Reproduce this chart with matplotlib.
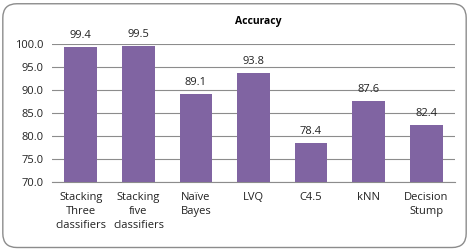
import numpy as np
import matplotlib
matplotlib.use("Agg")
import matplotlib.pyplot as plt
from matplotlib.patches import FancyBboxPatch

categories = ["Stacking\nThree\nclassifiers", "Stacking\nfive\nclassifiers", "Naïve\nBayes",
              "LVQ", "C4.5", "kNN", "Decision\nStump"]
accuracy = [99.4, 99.5, 89.1, 93.8, 78.4, 87.6, 82.4]
yticks = [70.0, 75.0, 80.0, 85.0, 90.0, 95.0, 100.0]

plt.rcParams['font.family'] = ['Open Sans', 'DejaVu Sans']

fig = plt.figure(figsize=(4.69, 2.5), dpi=100)
# rounded chart-area border, kept behind the axes
border = FancyBboxPatch((0.006, 0.01), 0.988, 0.975, boxstyle="round,pad=0,rounding_size=0.03",
                        transform=fig.transFigure, facecolor="white", edgecolor="#8c8c8c",
                        linewidth=1.0, mutation_aspect=469 / 250, zorder=-10)
fig.patches.append(border)

ax = fig.add_axes([0.111, 0.272, 0.859, 0.552])
ax.set_zorder(5)
x = np.arange(len(categories))
bars = ax.bar(x, accuracy, width=0.57, color="#8064a2", zorder=3)
for xi, v in zip(x, accuracy):
    ax.text(xi, v + 1.3, f"{v:.1f}", ha="center", va="bottom", fontsize=8, color="#222222")

ax.set_ylim(70, 100)
ax.set_xlim(-0.5, len(categories) - 0.5)
ax.set_yticks(yticks)
ax.set_yticklabels([f"{t:.1f}" for t in yticks], fontsize=8)
ax.set_xticks(x)
ax.set_xticklabels(categories, fontsize=8, linespacing=1.4, va="top")
ax.grid(axis="y", color="#8c8c8c", linewidth=0.8, zorder=0)
for s in ["top", "right", "left"]:
    ax.spines[s].set_visible(False)
ax.spines["bottom"].set_color("#8c8c8c")
ax.tick_params(axis="y", length=0, pad=6, colors="#222222")
ax.tick_params(axis="x", length=0, pad=7, colors="#222222")
ax.set_facecolor("none")

fig.text(0.55, 0.915, "Accuracy", ha="center", va="center", fontsize=7.5, fontweight="bold")

fig.savefig("out.png", dpi=100)
